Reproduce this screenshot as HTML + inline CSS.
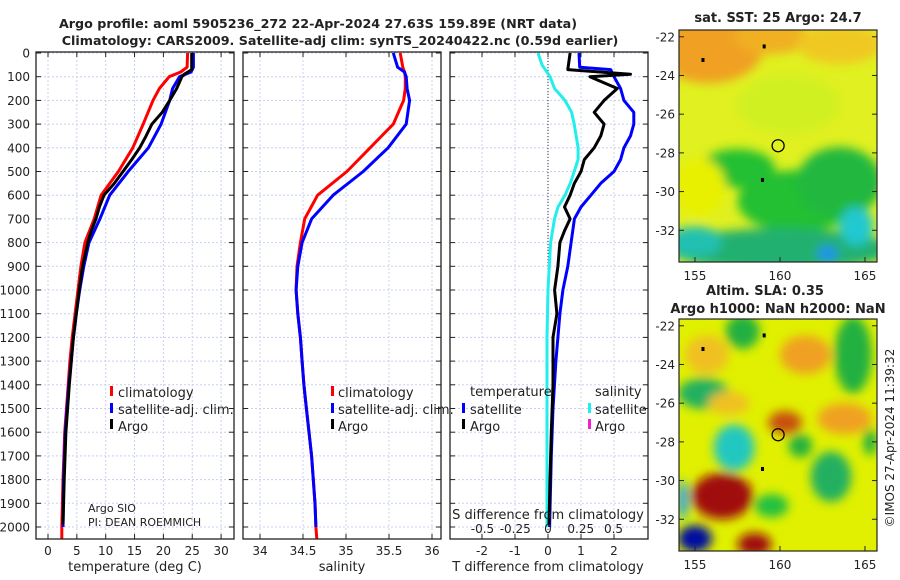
<!DOCTYPE html>
<html><head><meta charset="utf-8"><style>
body{margin:0;background:#fff}
svg{display:block;font-family:"DejaVu Sans","Liberation Sans",sans-serif}
</style></head><body>
<svg id="fig" width="900" height="580" viewBox="0 0 900 580">
<defs>
<filter id="blur2" x="-50%" y="-50%" width="200%" height="200%"><feGaussianBlur stdDeviation="5"/></filter>
<clipPath id="clipTop"><rect x="679" y="30" width="198" height="232"/></clipPath>
<clipPath id="clipBot"><rect x="679" y="319" width="198" height="232"/></clipPath>
</defs>
<g id="root"></g>
</svg>
<script>
// ---- data ----
const depths = [0,60,80,100,150,200,300,400,500,600,700,800,900,1000,1100,1200,1300,1400,1500,1600,1700,1800,1900,2000];
const tempClim = [24.2,24.1,23.0,21.0,19.3,18.2,16.5,14.7,12.2,9.2,8.0,6.4,5.7,5.2,4.7,4.2,3.8,3.5,3.2,2.9,2.75,2.6,2.5,2.4];
const tempSat  = [25.2,25.2,24.8,22.8,21.6,21.1,19.6,17.4,13.9,10.7,9.0,7.1,6.2,5.5,4.9,4.4,4.0,3.6,3.3,3.0,2.85,2.7,2.65,2.6];
const argoDepths = [0,70,90,100,150,200,250,300,350,400,450,500,550,600,650,700,750,800,900,1000,1100,1200,1400,1600,1800,1990];
const tempArgo = [24.9,24.9,23.6,23.2,22.3,21.1,19.8,18.0,17.0,15.9,14.5,13.0,11.5,9.7,8.9,8.3,7.5,6.9,6.0,5.4,4.9,4.4,3.7,3.1,2.8,2.6];
const salClim = [35.63,35.66,35.68,35.69,35.69,35.67,35.55,35.28,35.01,34.67,34.52,34.47,34.43,34.42,34.44,34.47,34.49,34.51,34.54,34.57,34.60,34.62,34.64,34.65];
const salSat  = [35.55,35.6,35.68,35.70,35.71,35.74,35.70,35.49,35.20,34.85,34.60,34.49,34.44,34.42,34.44,34.47,34.49,34.51,34.54,34.57,34.60,34.62,34.64,34.65];
const tdiffArgo = [0.67,0.6,2.5,1.27,2.1,1.7,1.4,1.7,1.6,1.4,1.1,1.0,0.8,0.67,0.5,0.67,0.5,0.36,0.3,0.2,0.27,0.15,0.15,0.1,0.06,0.03];
const tdiffSatDepths = [0,60,70,100,150,200,250,300,350,400,450,500,550,600,650,700,800,900,1000,1100,1300,1500,1700,2000];
const tdiffSat = [0.94,0.96,1.9,2.0,2.2,2.3,2.6,2.6,2.5,2.3,2.2,2.0,1.6,1.3,1.0,0.8,0.7,0.6,0.45,0.36,0.24,0.15,0.1,0.05];
const sdiffDepths = [0,50,100,150,200,250,300,400,450,500,550,600,650,700,800,900,1000,1200,1600,2000];
const sdiffSat = [-0.076,-0.046,0.015,0.05,0.13,0.18,0.2,0.23,0.23,0.2,0.17,0.13,0.076,0.05,0.02,0.01,0.0,-0.008,-0.008,-0.008];
const depthTicks = [0,100,200,300,400,500,600,700,800,900,1000,1100,1200,1300,1400,1500,1600,1700,1800,1900,2000];
const tempTicks = [0,5,10,15,20,25,30];
const salTicks = [34,34.5,35,35.5,36];
const tdTicks = [-2,-1,0,1,2];
const sdTicks = [-0.5,-0.25,0,0.25,0.5];
const sdTickLabels = ["-0.5","-0.25","0","0.25","0.5"];
const lonTicks = [155,160,165];
const latTicks = [-22,-24,-26,-28,-30,-32];

const NS="http://www.w3.org/2000/svg";
const root=document.getElementById('root');
function el(tag,attrs,parent,text){const e=document.createElementNS(NS,tag);for(const k in attrs)e.setAttribute(k,attrs[k]);if(text!==undefined)e.textContent=text;(parent||root).appendChild(e);return e;}

const Y0=53, PY=0.237, TOP=52, BOT=539;
const yD=d=>Y0+d*PY;
const xT=v=>48+v*5.77;
const xS=v=>260+(v-34)*86;
const xTD=v=>548+v*33;
const xSD=v=>548+v*131;

function panel(name,x0,x1,xf,ticks,labels,showDepthLabels){
  const g=el('g',{});
  
  
  depthTicks.forEach(d=>{el('line',{x1:x0,x2:x1,y1:yD(d),y2:yD(d),stroke:'#c8d0f0','stroke-width':1,'stroke-dasharray':'2,2'},g);
    el('line',{x1:x0,x2:x0+5,y1:yD(d),y2:yD(d),stroke:'#222'},g);el('line',{x1:x1-5,x2:x1,y1:yD(d),y2:yD(d),stroke:'#222'},g);
    if(showDepthLabels){const t=el('text',{x:30,y:yD(d)+4.5,'text-anchor':'end','font-size':12,fill:'#222'},g,String(d));}
  });
  ticks.forEach((v,i)=>{const x=xf(v);el('line',{x1:x,x2:x,y1:TOP,y2:BOT,stroke:'#c8d0f0','stroke-width':1,'stroke-dasharray':'2,2'},g);
    el('line',{x1:x,x2:x,y1:BOT,y2:BOT-5,stroke:'#222'},g);el('line',{x1:x,x2:x,y1:TOP,y2:TOP+5,stroke:'#222'},g);
    if(labels){const t=el('text',{x:x,y:555,'text-anchor':'middle','font-size':12,fill:'#222'},g,labels[i]);}
  });
  return g;
}
function line(name,ds,vs,xf,color,w){
  const p=ds.map((d,i)=>(i?'L':'M')+xf(vs[i]).toFixed(1)+','+yD(d).toFixed(1)).join('');
  const e=el('path',{d:p,fill:'none',stroke:color,'stroke-width':w,'stroke-linejoin':'round'});
  
  
  return e;
}
function frame(x0,x1){el('rect',{x:x0,y:TOP,width:x1-x0,height:BOT-TOP,fill:'none',stroke:'#222','stroke-width':1.3});}
function txt(name,x,y,s,opts){const t=el('text',Object.assign({x:x,y:y,'font-size':13,fill:'#222'},opts||{}),undefined,s);return t;}
function legMark(x,y,c){el('rect',{x:x,y:y-11,width:3,height:10,fill:c});}

txt('title-line-1',318,28,'Argo profile: aoml 5905236_272 22-Apr-2024 27.63S 159.89E (NRT data)',{'text-anchor':'middle','font-weight':'bold','font-size':12.7});
txt('title-line-2',340,45,'Climatology: CARS2009. Satellite-adj clim: synTS_20240422.nc (0.59d earlier)',{'text-anchor':'middle','font-weight':'bold','font-size':12.7});

panel('temperature-panel',36,234,xT,tempTicks,tempTicks.map(String),true);
line('temp-climatology-line',depths.concat([2050]),tempClim.concat([2.4]),xT,'#f00',3);
line('temp-satellite-line',depths,tempSat,xT,'#00f',3);
line('temp-argo-line',argoDepths,tempArgo,xT,'#000',3);
frame(36,234);
txt('temperature-axis-title',135,571,'temperature (deg C)',{'text-anchor':'middle'});
legMark(110,397,'#f00');txt('legend-climatology',118,397,'climatology');
legMark(110,414,'#00f');txt('legend-satellite-adj',118,414,'satellite-adj. clim.');
legMark(110,430,'#000');txt('legend-argo',118,431,'Argo');
txt('argo-sio-label',88,512,'Argo SIO',{'font-size':11});
txt('pi-label',88,526,'PI: DEAN ROEMMICH',{'font-size':11});

panel('salinity-panel',243,441,xS,salTicks,salTicks.map(String),false);
line('sal-climatology-line',depths.concat([2050]),salClim.concat([34.66]),xS,'#f00',3);
line('sal-satellite-line',depths,salSat,xS,'#00f',3);
frame(243,441);
txt('salinity-axis-title',342,571,'salinity',{'text-anchor':'middle'});
legMark(331,397,'#f00');txt('legend-climatology-2',338,397,'climatology');
legMark(331,414,'#00f');txt('legend-satellite-adj-2',338,414,'satellite-adj. clim.');
legMark(331,430,'#000');txt('legend-argo-2',338,431,'Argo');

panel('difference-panel',450,648,xTD,tdTicks,tdTicks.map(String),false);
el('line',{x1:548,x2:548,y1:TOP,y2:BOT,stroke:'#333','stroke-dasharray':'1,2'});
line('sdiff-satellite-line',sdiffDepths,sdiffSat,xSD,'#22eeee',3);
line('tdiff-satellite-line',tdiffSatDepths,tdiffSat,xTD,'#00f',3);
line('tdiff-argo-line',argoDepths,tdiffArgo,xTD,'#000',3);
frame(450,648);
sdTicks.forEach((v,i)=>{txt('s-diff-tick-label',xSD(v),533,sdTickLabels[i],{'text-anchor':'middle','font-size':12});});
txt('s-diff-axis-title',548,519,'S difference from climatology',{'text-anchor':'middle'});
txt('t-diff-axis-title',548,571,'T difference from climatology',{'text-anchor':'middle'});
txt('legend-temperature-header',470,396,'temperature');
legMark(462,414,'#00f');txt('legend-t-satellite',470,414,'satellite');
legMark(462,430,'#000');txt('legend-t-argo',470,431,'Argo');
txt('legend-salinity-header',595,396,'salinity');
legMark(588,414,'#22eeee');txt('legend-s-satellite',595,414,'satellite');
legMark(588,430,'#ee22cc');txt('legend-s-argo',595,431,'Argo');

const xLon=l=>679+(l-154.06)*17;
const latY=(l,top)=>top+(-21.65-l)*19.35;
const sstBlobs=[[155.8,-22.6,3.2,1.8,'#f0a020'],[159.5,-22,2.2,0.9,'#f0b020'],[163.5,-22.4,2.5,1,'#f0c820'],[160.5,-25.5,3,1.5,'#d0f020'],
 [157.5,-28.8,2.2,1,'#20c030'],[161,-30.5,3.5,1.6,'#20c030'],[163.5,-29.5,2.5,1.8,'#20b840'],[155.3,-29.8,1.5,1.5,'#e8f000'],[160,-33,6.5,1.1,'#20b070'],[155,-32.6,1.6,0.8,'#20c0b0'],[164.5,-31.8,1,1,'#20c8d0'],[162.8,-33.2,0.6,0.4,'#2090f0']];
const slaBlobs=[[155.7,-23.5,1.3,1,'#f0c020'],[157.8,-22.3,1,0.9,'#20b040'],[161.5,-23.5,1.5,1,'#f0a020'],[164.3,-23.5,1.1,2,'#20b040'],[155.5,-25.5,1.5,0.8,'#20b060'],
 [160.3,-27,1,0.6,'#c85010'],[163.8,-26.8,1.6,0.8,'#f0a020'],[157.3,-28.3,1.2,1.2,'#20c8c0'],[161.2,-28.2,0.7,0.6,'#20b040'],[163,-29.8,1.2,1.3,'#20b060'],
 [156.6,-30.8,1.8,1.2,'#a01010'],[155,-33,1,0.7,'#0010a0'],[154.3,-31,0.3,1,'#20a0f0'],[158.5,-33.3,1,0.6,'#a01010'],[159.5,-31.3,1,0.6,'#20c040'],[165.3,-28,0.4,0.7,'#20b040'],[157,-26,1.2,0.6,'#f0c020']];
function drawMap(name,top,bg,blobs,clip){
  const g=el('g',{'clip-path':'url(#'+clip+')'});
  
  
  el('rect',{x:679,y:top,width:198,height:232,fill:bg},g);
  const bg2=el('g',{filter:'url(#blur2)'},g);
  blobs.forEach(b=>{el('ellipse',{cx:xLon(b[0]),cy:latY(b[1],top),rx:b[2]*17,ry:b[3]*19.35,fill:b[4]},bg2);});
  el('circle',{cx:xLon(159.89),cy:latY(-27.63,top),r:6,fill:'none',stroke:'#000','stroke-width':1.3},g);
  [[155.5,-23.2],[159.1,-22.5],[159,-29.4]].forEach(p=>el('rect',{x:xLon(p[0])-2,y:latY(p[1],top)-2,width:3,height:4,fill:'#000'},g));
  el('rect',{x:679,y:top,width:198,height:232,fill:'none',stroke:'#222','stroke-width':1.2});
  lonTicks.forEach(l=>{const x=xLon(l);el('line',{x1:x,x2:x,y1:top+232,y2:top+227,stroke:'#222'});
    txt('lon-tick-label',x,top+250,String(l),{'text-anchor':'middle','font-size':12});});
  latTicks.forEach(l=>{const y=latY(l,top);el('line',{x1:679,x2:684,y1:y,y2:y,stroke:'#222'});el('line',{x1:877,x2:872,y1:y,y2:y,stroke:'#222'});
    txt('lat-tick-label',675,y+4.5,String(l),{'text-anchor':'end','font-size':12});});
}
drawMap('sst-map',30,'#e0f020',sstBlobs,'clipTop');
drawMap('sla-map',319,'#e0f000',slaBlobs,'clipBot');
txt('sst-map-title',778,22,'sat. SST: 25 Argo: 24.7',{'text-anchor':'middle','font-weight':'bold'});
txt('sla-map-title-1',765,295,'Altim. SLA: 0.35',{'text-anchor':'middle','font-weight':'bold'});
txt('sla-map-title-2',778,313,'Argo h1000: NaN h2000: NaN',{'text-anchor':'middle','font-weight':'bold'});
txt('copyright-label',0,0,'©IMOS 27-Apr-2024 11:39:32',{'text-anchor':'middle','font-size':12,transform:'translate(894,438) rotate(-90)'});
</script>
</body></html>
